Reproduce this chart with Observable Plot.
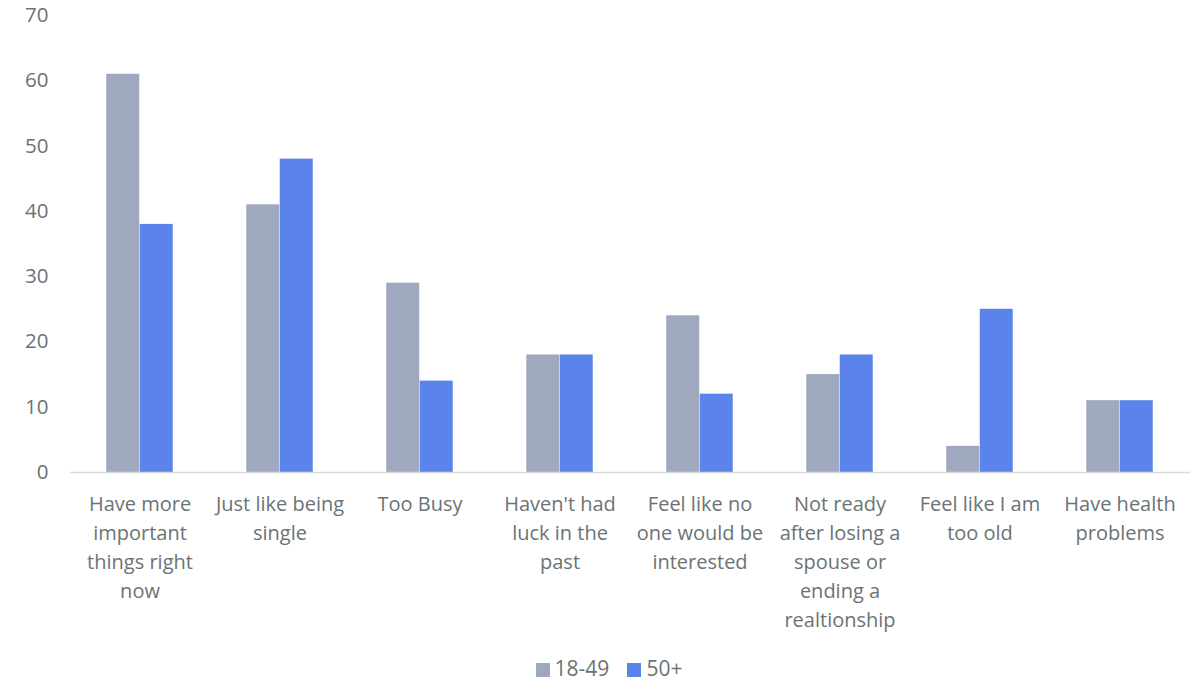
<!DOCTYPE html>
<html>
<head>
<meta charset="utf-8">
<script src="https://cdn.jsdelivr.net/npm/d3@7"></script>
<script src="https://cdn.jsdelivr.net/npm/@observablehq/plot@0.6"></script>
<style>
  body { margin: 0; background: #fff; font-family: "Open Sans", sans-serif; }
  #legend { display: flex; justify-content: center; gap: 18px; font-size: 21px; color: #6b7375; height: 35px; align-items: center; margin-left: 14px; }
  #legend span.sw { display: inline-block; width: 14px; height: 14px; margin-right: 5px; vertical-align: -1px; }
</style>
</head>
<body>
<div id="chart"></div>
<div id="legend"></div>
<script>
const categories = [
  "Have more important things right now",
  "Just like being single",
  "Too Busy",
  "Haven't had luck in the past",
  "Feel like no one would be interested",
  "Not ready after losing a spouse or ending a realtionship",
  "Feel like I am too old",
  "Have health problems"
];
const categoryLabels = [
  "Have more\nimportant\nthings right\nnow",
  "Just like being\nsingle",
  "Too Busy",
  "Haven't had\nluck in the\npast",
  "Feel like no\none would be\ninterested",
  "Not ready\nafter losing a\nspouse or\nending a\nrealtionship",
  "Feel like I am\ntoo old",
  "Have health\nproblems"
];
const seriesNames = ["18-49", "50+"];
const values1849 = [61, 41, 29, 18, 24, 15, 4, 11];
const values50 = [38, 48, 14, 18, 12, 18, 25, 11];
const seriesColors = ["#9ea9c0", "#5a84ec"];
const yTicks = [0, 10, 20, 30, 40, 50, 60, 70];

const labelMap = new Map(categories.map((c, i) => [c, categoryLabels[i]]));
const d1 = categories.map((c, i) => ({category: c, series: seriesNames[0], value: values1849[i]}));
const d2 = categories.map((c, i) => ({category: c, series: seriesNames[1], value: values50[i]}));

const chart = Plot.plot({
  width: 1204,
  height: 650,
  marginTop: 15,
  marginBottom: 178,
  marginLeft: 70,
  marginRight: 14,
  style: {fontFamily: "Open Sans, sans-serif", fontSize: "20px", color: "#6b7375", background: "#fff"},
  x: {domain: categories, paddingInner: 0.761, paddingOuter: 0.3805, label: null},
  y: {domain: [0, 70], ticks: yTicks, label: null},
  color: {domain: seriesNames, range: seriesColors},
  marks: [
    Plot.barY(d1, {x: "category", y: "value", fill: "series", dx: -16.75}),
    Plot.barY(d2, {x: "category", y: "value", fill: "series", dx: 16.75}),
    Plot.ruleY([0], {stroke: "#d9d9d9", strokeWidth: 1.5}),
    Plot.axisY({ticks: yTicks, tickSize: 0, tickPadding: 22, fontSize: 20.5, fill: "#6b7375", label: null}),
    Plot.axisX({tickSize: 0, tickPadding: 18, fontSize: 20, lineHeight: 1.45, fill: "#6b7375", label: null, tickFormat: d => labelMap.get(d)})
  ]
});
document.getElementById("chart").appendChild(chart);

const legend = document.getElementById("legend");
seriesNames.forEach((s, i) => {
  const item = document.createElement("div");
  item.innerHTML = `<span class="sw" style="background:${seriesColors[i]}"></span>${s}`;
  legend.appendChild(item);
});
</script>
</body>
</html>
